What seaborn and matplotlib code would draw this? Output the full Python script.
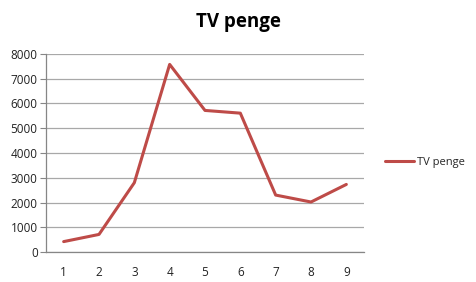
import matplotlib
matplotlib.use("Agg")
import matplotlib.pyplot as plt
import seaborn as sns
import pandas as pd
import numpy as np

categories = [1, 2, 3, 4, 5, 6, 7, 8, 9]
values = [420, 710, 2800, 7580, 5720, 5610, 2300, 2020, 2730]
y_ticks = [0, 1000, 2000, 3000, 4000, 5000, 6000, 7000, 8000]
series_name = "TV penge"

sns.set_theme(style="white")
plt.rcParams['font.family'] = ['Open Sans', 'DejaVu Sans']

df = pd.DataFrame({"x": categories, "y": values, "series": series_name})

fig = plt.figure(figsize=(4.76, 2.82), dpi=100)
ax = fig.add_axes([46/476, 30/282, 318/476, 198/282])

sns.lineplot(data=df, x="x", y="y", hue="series", palette=["#BE4B48"],
             linewidth=2.2, ax=ax, legend=True)

ax.set_xlim(0.5, 9.5)
ax.set_ylim(0, 8000)
ax.set_yticks(y_ticks)
ax.set_yticklabels([str(v) for v in y_ticks], fontsize=8.5, color="#222222")
ax.set_xticks(categories)
ax.set_xticklabels([str(c) for c in categories], fontsize=8.5, color="#222222")
ax.set_xticks(np.arange(0.5, 10, 1), minor=True)
ax.tick_params(axis="x", which="major", length=0, pad=10)
ax.tick_params(axis="x", which="minor", length=4, width=0.8, color="#868686", direction="out")
ax.tick_params(axis="y", which="major", length=4, width=0.8, color="#868686", direction="out", pad=2, left=True)
ax.set_xlabel("")
ax.set_ylabel("")
ax.grid(axis="y", color="#A8A8A8", linewidth=0.9)
ax.set_axisbelow(True)
for s in ["top", "right"]:
    ax.spines[s].set_visible(False)
for s in ["left", "bottom"]:
    ax.spines[s].set_color("#868686")
    ax.spines[s].set_linewidth(0.9)

fig.text(238/476, 1 - 22/282, "TV penge", ha="center", va="center",
         fontsize=13.5, fontweight="bold", color="black")

leg = ax.legend(loc="center left", bbox_to_anchor=(385/476, 1 - 162/282),
                bbox_transform=fig.transFigure, frameon=False, fontsize=8,
                handlelength=2.6, handletextpad=0.25, borderaxespad=0, borderpad=0)

fig.savefig("out.png", dpi=100, facecolor="white")
